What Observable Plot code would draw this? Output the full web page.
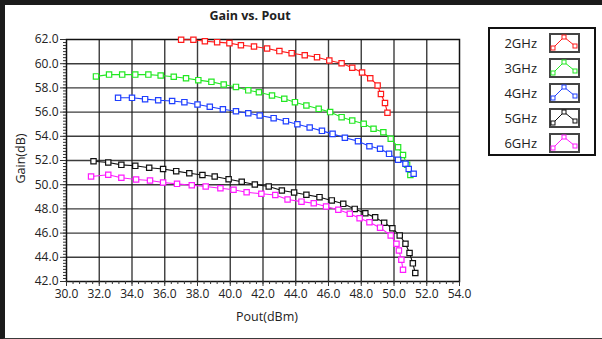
<!DOCTYPE html>
<html><head><meta charset="utf-8">
<script src="https://cdn.jsdelivr.net/npm/d3@7"></script>
<script src="https://cdn.jsdelivr.net/npm/@observablehq/plot@0.6"></script>
<style>
body{margin:0;background:#fff;font-family:"Open Sans",sans-serif;}
#wrap{position:relative;width:602px;height:339px;overflow:hidden;background:#fff;}
#frame{position:absolute;left:0;top:0;width:640px;height:333px;border-left:5px solid #1b1b1b;border-top:5px solid #1b1b1b;border-bottom:2px solid #3a3a3a;box-sizing:content-box;}
#title{position:absolute;left:150px;width:200px;top:7px;text-align:center;font-weight:bold;font-size:12.5px;color:#222;}
#xlab{position:absolute;left:167px;width:200px;top:308px;text-align:center;font-size:12.5px;color:#222;}
#ylab{position:absolute;left:-30px;width:100px;top:150px;text-align:center;font-size:12.5px;color:#222;transform:rotate(-90deg);}
#legend{position:absolute;left:488px;top:27px;width:104px;height:125px;border:2px solid #111;background:#fff;}
.row{position:absolute;left:0;width:104px;height:20px;}
.row span{position:absolute;right:57px;top:1px;font-size:13px;color:#222;}
.row svg{position:absolute;left:59px;top:0;}
#chart{position:absolute;left:0;top:0;}
</style></head><body><div id="wrap"><div id="frame"></div><div id="chart"></div>
<div id="title">Gain vs. Pout</div><div id="xlab">Pout(dBm)</div><div id="ylab">Gain(dB)</div>
<div id="legend"></div></div>
<script>
const series = ["2GHz","3GHz","4GHz","5GHz","6GHz"];
const colors = ["#ff1a1a","#22e822","#1f3fff","#111111","#ff1aff"];
const xTicks = [30,32,34,36,38,40,42,44,46,48,50,52,54];
const yTicks = [42,44,46,48,50,52,54,56,58,60,62];

const pout2 = [37.0,37.75,38.45,39.2,39.95,40.65,41.45,42.25,43.0,43.75,44.55,45.3,46.05,46.8,47.45,48.05,48.55,49.0,49.2,49.45,49.6];
const gain2 = [61.98,61.98,61.86,61.78,61.7,61.53,61.42,61.26,61.04,60.87,60.7,60.54,60.26,60.04,59.66,59.27,58.8,58.2,57.5,56.75,55.95];
const pout3 = [31.8,32.6,33.4,34.2,35.0,35.75,36.55,37.3,38.05,38.85,39.6,40.35,41.1,41.75,42.55,43.3,43.95,44.65,45.4,46.1,46.8,47.45,48.15,48.75,49.35,49.8,50.25,50.55,50.8,51.0];
const gain3 = [58.95,59.1,59.1,59.1,59.1,59.02,58.92,58.8,58.64,58.5,58.28,58.08,57.8,57.64,57.37,57.1,56.82,56.55,56.27,56.0,55.58,55.3,55.03,54.62,54.34,53.8,53.1,52.45,51.65,50.8];
const pout4 = [33.15,34.0,34.8,35.6,36.45,37.2,38.0,38.75,39.55,40.35,41.1,41.8,42.65,43.4,44.1,44.85,45.6,46.25,47.0,47.8,48.5,49.15,49.7,50.25,50.7,50.9,51.2];
const gain4 = [57.18,57.18,57.07,56.98,56.92,56.82,56.63,56.44,56.24,56.07,55.9,55.72,55.5,55.25,55.0,54.73,54.45,54.2,53.88,53.6,53.18,52.97,52.55,52.06,51.73,51.3,50.9];
const pout5 = [31.65,32.55,33.35,34.2,35.05,35.9,36.7,37.5,38.3,39.05,39.9,40.7,41.5,42.35,43.15,43.9,44.65,45.45,46.2,46.9,47.6,48.25,48.85,49.4,49.9,50.35,50.7,50.95,51.15,51.3];
const gain5 = [51.94,51.83,51.64,51.56,51.4,51.3,51.12,50.95,50.8,50.68,50.45,50.24,50.02,49.85,49.52,49.36,49.17,48.97,48.7,48.42,48.0,47.64,47.3,46.85,46.4,45.8,45.12,44.35,43.5,42.7];
const pout6 = [31.5,32.55,33.35,34.25,35.1,35.9,36.75,37.65,38.5,39.4,40.2,41.0,41.9,42.75,43.5,44.35,45.1,45.85,46.6,47.3,47.9,48.5,49.15,49.8,50.15,50.3,50.45,50.55];
const gain6 = [50.68,50.82,50.57,50.43,50.35,50.18,50.07,49.96,49.85,49.71,49.58,49.38,49.25,49.15,48.78,48.6,48.47,48.2,47.93,47.6,47.23,46.9,46.45,45.8,45.12,44.56,43.8,42.97];

const pouts = [pout2,pout3,pout4,pout5,pout6];
const gains = [gain2,gain3,gain4,gain5,gain6];
const data = series.flatMap((s,i)=>pouts[i].map((p,j)=>({series:s,pout:p,gain:gains[i][j]})));

const xMinor = d3.range(0,61).map(i=>30+i*0.4).filter(v=>v<=54.001);
const yMinor = d3.range(0,81).map(i=>42+i*0.25);

const plot = Plot.plot({
  width:602, height:339,
  marginLeft:66, marginRight:143, marginTop:39, marginBottom:58,
  style:{fontFamily:'"Open Sans",sans-serif', fontSize:"12px", color:"#222", background:"transparent"},
  x:{domain:[30,54], label:null}, y:{domain:[42,62], label:null},
  color:{domain:series, range:colors},
  marks:[
    Plot.ruleX(xTicks.slice(1,-1),{stroke:"#1a1a1a",strokeWidth:1.4,strokeOpacity:0.85}),
    Plot.ruleY(yTicks.slice(1,-1),{stroke:"#1a1a1a",strokeWidth:1.4,strokeOpacity:0.85}),
    Plot.frame({stroke:"#111",strokeWidth:1.5}),
    Plot.axisX(xMinor,{tickSize:3,tickFormat:()=>"",label:null,stroke:"#333"}),
    Plot.axisY(yMinor,{tickSize:3,tickFormat:()=>"",label:null,stroke:"#333"}),
    Plot.axisX(xTicks,{tickSize:5,tickPadding:3,tickFormat:d=>d.toFixed(1),label:null,stroke:"#333",fontSize:12}),
    Plot.axisY(yTicks,{tickSize:6,tickPadding:2,tickFormat:d=>d.toFixed(1),label:null,stroke:"#333",fontSize:12}),
    Plot.line(data,{x:"pout",y:"gain",z:"series",stroke:"series",strokeWidth:1.1}),
    Plot.dot(data,{x:"pout",y:"gain",stroke:"series",symbol:"square",r:3,fill:"#fff",strokeWidth:1.2})
  ]
});
document.getElementById("chart").appendChild(plot);

const leg = document.getElementById("legend");
series.forEach((s,i)=>{
  const row = document.createElement("div");
  row.className="row";
  row.style.top = (4+i*25)+"px";
  const c = colors[i];
  const pts = [[4,15],[15,4],[26,13]];
  const sq = pts.map(([x,y])=>`<rect x="${x-2}" y="${y-2}" width="4" height="4" fill="#fff" stroke="${c}" stroke-width="1"/>`).join("");
  row.innerHTML = `<span>${s}</span><svg width="31" height="20"><rect x="1" y="1" width="29" height="18" fill="#fff" stroke="#444" stroke-width="2"/><polyline points="${pts.map(p=>p.join(",")).join(" ")}" fill="none" stroke="${c}" stroke-width="1"/>${sq}</svg>`;
  leg.appendChild(row);
});
</script></body></html>
